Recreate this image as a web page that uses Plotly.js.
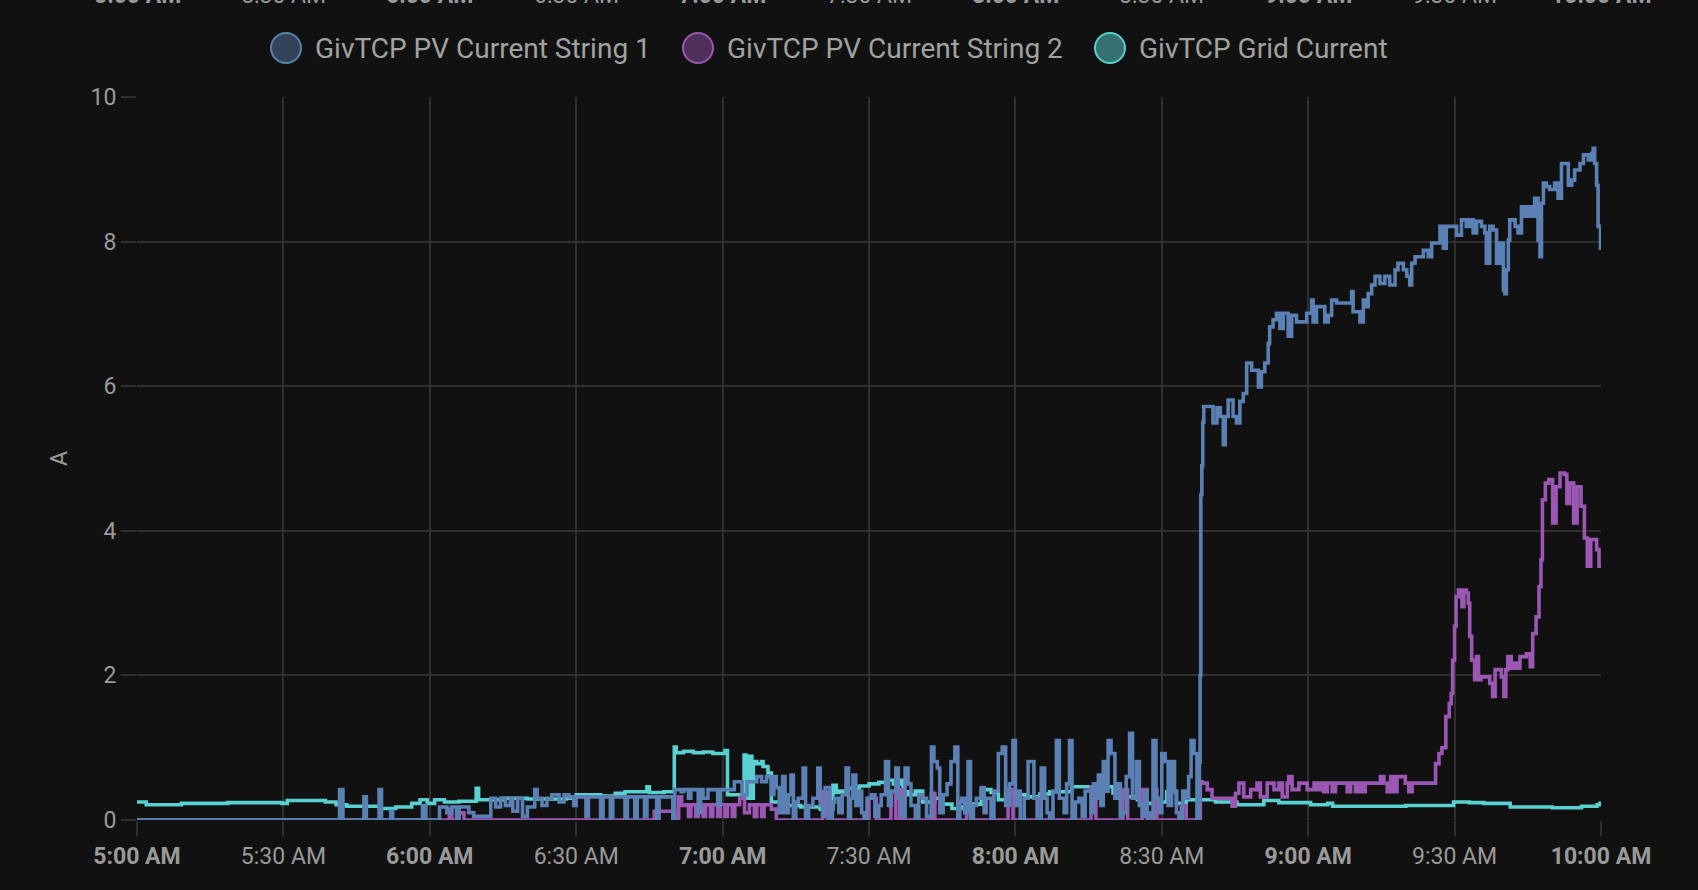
<!DOCTYPE html>
<html>
<head>
<meta charset="utf-8">
<script src="https://cdn.plot.ly/plotly-3.0.1.min.js"></script>
<style>
html,body{margin:0;padding:0;background:#111111;}
#chart{width:1698px;height:890px;}
</style>
</head>
<body>
<div id="chart"></div>
<script>
// ---- DATA (time = minutes after 05:00, value = amps) ----
const seriesNames = ["GivTCP PV Current String 1", "GivTCP PV Current String 2", "GivTCP Grid Current"];
const tickMinutes = [0, 30, 60, 90, 120, 150, 180, 210, 240, 270, 300];
const tickLabels = ["5:00 AM", "5:30 AM", "6:00 AM", "6:30 AM", "7:00 AM", "7:30 AM", "8:00 AM", "8:30 AM", "9:00 AM", "9:30 AM", "10:00 AM"];
const yTicks = [0, 2, 4, 6, 8, 10];

const string1Points = [
[0,0],[41.5,0.42],[42.2,0],[46.5,0.32],[47,0],[49.6,0.42],[50.1,0],[52,0.12],[52.4,0],[58.5,0.2],[59.2,0],
[62,0.18],[63.5,0.1],[64.5,0.18],[65.5,0],[66,0.18],[68,0.1],[69,0.05],[72.5,0.3],[73.5,0.18],[74.5,0.3],
[75.5,0.2],[76.5,0.3],[77,0.12],[78,0.3],[79,0.05],[80,0.18],[81.5,0.42],[82,0.3],[83,0.2],[84,0.3],[85,0.35],
[86.5,0.25],[87.5,0.35],[88.5,0.32],[89.5,0.2],[90,0.32],[92,0.05],[92.5,0.32],[95,0],[95.5,0.32],[97,0],
[97.5,0.32],[100,0],[100.5,0.32],[102,0],[102.5,0.32],[104,0.05],[104.5,0.32],[106.5,0],[107,0.32],
[109.8,0],[110.2,0.42],[111.5,0.39],[112,0.42],[113,0.3],[113.5,0.42],[115,0.1],[115.5,0.42],
[116,0.3],[117,0.42],[119,0.2],[119.5,0.42],[122.4,0.53],[124,0.35],[125,0.53],[127,0.6],[128,0.53],
[129,0.6],[130,0.35],[130.5,0.6],[131,0.45],[131.6,0.1],[132.3,0.6],[132.8,0.1],[133.5,0.35],[134,0.62],
[134.5,0],[135,0.25],[135.5,0.3],[136.5,0.72],[137,0],[137.6,0.2],[138.5,0.3],[139.5,0.72],[140,0.2],
[140.5,0.05],[141,0.45],[142,0],[142.5,0.25],[143,0.3],[143.8,0.1],[144.5,0.35],[145.3,0.72],[145.8,0],
[146.2,0.3],[146.7,0.62],[147.3,0.2],[148,0.4],[148.5,0.1],[149,0],[149.6,0.3],[150.5,0.35],[151.2,0.05],
[152,0.2],[152.5,0.35],[153.4,0.81],[154,0.2],[154.6,0.4],[155.5,0.72],[156,0.3],[156.6,0.05],
[157.4,0.72],[158,0.5],[158.6,0.2],[159.5,0],[160.2,0.35],[161,0.3],[161.8,0.05],[162.8,1.01],
[163.3,0.81],[164,0.72],[164.5,0.1],[165.2,0.35],[166,0.5],[166.8,0.81],[167.6,1.01],[168.2,0],
[168.6,0.25],[169,0.3],[169.6,0.1],[170.3,0.81],[170.8,0],[171.4,0.2],[172,0.3],[173,0.45],[173.6,0.1],
[174,0.3],[175,0],[175.6,0.4],[176.5,0.92],[177.3,1.01],[178,0.2],[178.8,0.5],[179.5,1.1],[180,0.2],
[180.5,0.4],[181,0],[181.8,0.3],[182.6,0.81],[183.8,0.3],[184.5,0],[185.3,0.72],[186,0.3],[186.5,0.1],
[187,0],[187.7,0.4],[188.4,1.1],[189,0.3],[190,0.1],[190.5,0.5],[191.1,1.1],[191.6,0],[192.3,0.25],
[193,0.3],[193.7,0.05],[194.3,0.4],[195,0.4],[195.5,0.1],[196,0.5],[196.5,0.3],[197,0.62],[197.5,0.2],
[198,0.81],[198.5,0.4],[199,1.1],[199.6,0.92],[200.4,0.3],[201,0.5],[201.5,0.05],[202,0.1],[202.7,0.6],
[203.4,1.2],[204,0.3],[204.8,0.81],[205.4,0.2],[206,0.05],[206.5,0.4],[207,0.1],[207.5,0],[208.2,1.1],
[208.8,0.3],[209.4,0.1],[210,0.92],[210.7,0.81],[211.3,0.2],[212,0.81],[212.6,0.4],[213,0.1],[213.5,0],
[214.3,0.4],[215,0.3],[215.5,0.6],[216,1.1],[216.6,0.92],[217.2,0],
[217.7,0.8],[217.85,2.0],[218,4.5],[218.2,4.9],[218.4,5.5],[218.6,5.72],
[220.5,5.49],[221.3,5.7],[222,5.58],[222.6,5.19],[223,5.58],[223.6,5.81],[224.6,5.58],[225.3,5.49],
[226,5.79],[226.7,5.9],[227.4,6.32],[228.4,6.22],[229.8,5.99],[230.4,6.2],[231.1,6.32],[231.8,6.59],
[232.1,6.82],[232.8,6.92],[233.5,7.01],[234.2,6.8],[234.9,7.01],[235.9,6.69],[236.6,6.98],[237.6,6.89],
[239.7,7.01],[240.7,7.19],[241,6.89],[241.7,7.1],[243.4,6.89],[244.1,6.98],[244.8,7.19],[245.8,7.15],
[248.9,7.31],[249.2,7.03],[250.6,6.89],[251.3,7.19],[252,7.1],[252.3,7.28],[253,7.4],[253.7,7.52],
[254.7,7.42],[255.7,7.52],[256.7,7.4],[257.8,7.61],[258.4,7.7],[259.5,7.61],[260.2,7.52],[260.8,7.4],
[261.2,7.7],[261.9,7.79],[263.6,7.88],[264.6,7.79],[265.3,7.98],[267,8.21],[267.7,7.91],[268.3,8.21],
[270.4,8.09],[271.4,8.3],[272.4,8.21],[273.1,8.3],[273.8,8.12],[274.5,8.28],[275.5,8.21],[276.2,8.12],
[276.5,7.7],[277.2,8.21],[277.9,8.16],[278.6,7.7],[279.3,7.98],[280,7.33],[280.3,7.28],[280.6,7.61],
[281,8.02],[281.3,8.3],[282.4,8.21],[283,8.12],[283.7,8.48],[284.4,8.35],[285.1,8.48],[285.8,8.35],
[286.4,8.6],[287.1,8.02],[287.5,7.79],[287.8,8.53],[288.2,8.81],[288.8,8.76],[289.5,8.72],[290.5,8.81],
[291.2,8.6],[291.9,9.08],[293.3,8.78],[294,8.85],[294.6,8.99],[295.7,9.08],[296.4,9.2],[297.4,9.13],
[298.1,9.22],[298.4,9.29],[298.7,9.08],[299.1,8.78],[299.4,8.21],[299.9,7.91],[300,7.91]
];

const string2Points = [
[0,0],[64,0.15],[64.5,0],[66,0.1],[67,0],[106,0.12],[110.2,0],[111,0.32],[111.6,0.2],[112.5,0.21],
[113,0.05],[113.5,0.21],[114.5,0.05],[115,0.21],[116,0.05],[116.5,0.21],[117.5,0.05],[118,0.21],
[119,0.05],[119.5,0.21],[120.5,0.05],[121,0.21],[122,0.05],[122.5,0.21],[123.5,0.3],[124.5,0.1],
[125.5,0.21],[126.5,0.05],[127,0.21],[128,0.05],[128.5,0.21],[130,0.15],[131,0],[140.5,0.39],[141.5,0],
[150,0.3],[151.5,0],[154.5,0.39],[155.5,0],[156.3,0.42],[157,0],[162.8,0.37],[163.5,0],[170,0.2],[171,0],
[178.5,0.42],[179.5,0],[184.5,0.3],[185.3,0],[195.5,0.46],[196.5,0],[202,0.42],[203,0],[206,0.42],[207,0],
[208.5,0.42],[209,0],[214,0.2],[215,0],[217.9,0.53],[218.3,0.51],[219.3,0.42],[220.3,0.3],[224.4,0.19],
[225.1,0.37],[225.8,0.51],[226.8,0.32],[228.2,0.42],[229.5,0.51],[230.2,0.32],[231.6,0.51],[233,0.42],
[234,0.51],[234.7,0.32],[235.7,0.51],[236,0.6],[236.7,0.42],[238.1,0.51],[239.8,0.42],[241.2,0.51],
[241.8,0.42],[242.5,0.51],[243.2,0.39],[243.9,0.51],[244.9,0.39],[245.6,0.51],[248,0.39],[248.7,0.51],
[249.7,0.39],[250.4,0.51],[251.1,0.39],[251.7,0.51],[254.8,0.6],[255.5,0.51],[256.2,0.39],[256.9,0.6],
[257.5,0.39],[258.2,0.6],[259.9,0.51],[260.6,0.39],[261.3,0.51],[266.1,0.78],[266.8,0.92],[267.4,1.0],
[268.2,1.43],[268.9,1.61],[269.3,1.75],[269.6,2.21],[270,2.68],[270.3,3.09],[270.8,3.18],[271.5,2.95],
[271.9,3.18],[272.4,3.14],[272.8,3.0],[273.1,2.54],[273.5,2.21],[274.1,1.94],[274.5,2.26],[274.9,1.94],
[275.4,1.98],[277.2,1.89],[277.8,1.71],[278.3,2.08],[279.6,1.98],[280.1,1.71],[280.5,2.08],[280.9,2.26],
[281.6,2.1],[282.3,2.17],[283,2.1],[283.4,2.26],[284.7,2.3],[285.5,2.12],[286,2.58],[286.7,2.81],
[287.3,3.23],[287.7,3.6],[288,4.43],[288.6,4.66],[289.3,4.71],[290.1,4.11],[290.8,4.61],[291.6,4.8],
[292.5,4.78],[293,4.38],[293.6,4.66],[294.4,4.11],[295.1,4.61],[295.9,4.34],[296.6,3.9],[297.2,3.51],
[297.9,3.88],[299.1,3.74],[299.6,3.51],[300,3.51]
];

const gridPoints = [
[0,0.25],[1.9,0.21],[9.1,0.23],[18.6,0.24],[29.7,0.23],[30.8,0.27],[38.6,0.25],[40.8,0.21],[43,0.19],
[49.7,0.16],[53,0.18],[56.3,0.23],[58,0.28],[59.5,0.23],[61,0.28],[63,0.25],[66,0.26],[69.5,0.44],
[70,0.28],[75,0.3],[80,0.29],[88,0.3],[90,0.35],[95,0.33],[98,0.37],[100,0.39],[104.5,0.46],[105,0.38],
[108,0.39],[110.1,1.01],[110.5,0.93],[112,0.95],[114,0.93],[116,0.94],[118,0.92],[120.5,0.96],[121,0.35],
[124.4,0.9],[124.8,0.3],[125.5,0.88],[126,0.3],[126.3,0.81],[127,0.78],[128,0.81],[128.3,0.74],
[129.3,0.65],[130,0.25],[132,0.2],[136,0.18],[140,0.15],[142.6,0.48],[143.3,0.38],[144,0.4],[145.5,0.44],
[148,0.47],[150,0.5],[152,0.52],[153.5,0.55],[155,0.5],[156.3,0.55],[157,0.39],[158,0.35],[159.5,0.4],
[161,0.25],[163.5,0.3],[165,0.22],[167,0.16],[169,0.18],[171,0.22],[173,0.42],[175,0.38],[176.5,0.28],
[178,0.39],[180,0.35],[182,0.32],[185,0.36],[187,0.39],[189,0.39],[191.5,0.46],[194,0.46],[196.5,0.39],
[198,0.46],[200,0.37],[202,0.32],[205,0.28],[207,0.23],[209,0.25],[211,0.39],[213,0.23],[215,0.28],
[218,0.28],[221,0.25],[225.4,0.21],[230.9,0.27],[234,0.24],[240.5,0.21],[244,0.23],[245,0.19],[255,0.19],
[260,0.2],[269.8,0.25],[273,0.24],[276,0.23],[281.4,0.18],[290,0.17],[296,0.19],[299.2,0.21],[299.8,0.23],[300,0.23]
];

// ---- helpers ----
const DAY = "2024-01-01";
function pad(n){ return (n < 10 ? "0" : "") + n; }
function toTime(m){
  const s = Math.round(m * 60);
  const h = 5 + Math.floor(s / 3600);
  const mm = Math.floor((s % 3600) / 60);
  const ss = s % 60;
  return DAY + " " + pad(h) + ":" + pad(mm) + ":" + pad(ss);
}

const colors = ["#5a80b4", "#9b57b3", "#58d1d0"];
const fills = ["rgba(90,128,180,0.45)", "rgba(155,87,179,0.45)", "rgba(88,209,208,0.5)"];
const seriesData = [string1Points, string2Points, gridPoints];

// draw order: grid bottom, string 2, string 1 top
const traces = [2, 1, 0].map(i => ({
  type: "scatter",
  mode: "lines",
  name: seriesNames[i],
  x: seriesData[i].map(p => toTime(p[0])),
  y: seriesData[i].map(p => p[1]),
  line: { color: colors[i], width: 3.6, shape: "hv" },
  showlegend: false,
  hoverinfo: "x+y+name"
}));

const W = 1698, H = 890;
const M = { l: 137, r: 97, t: 97, b: 70 };
const PW = W - M.l - M.r, PH = H - M.t - M.b;
const px2x = px => (px - M.l) / PW;
const py2y = py => (H - M.b - py) / PH;

const tickVals = tickMinutes.map(toTime);
const tickText = tickLabels.map((t, i) => (tickMinutes[i] % 60 === 0 ? "<b>" + t + "</b>" : t));

const shapes = [];
const annotations = [];
const legendCircleX = [286, 698, 1110];
const legendTextX = [313, 725, 1137];
const legendY = 48;
seriesNames.forEach((name, i) => {
  shapes.push({
    type: "circle", xref: "paper", yref: "paper",
    xsizemode: "pixel", ysizemode: "pixel",
    xanchor: px2x(legendCircleX[i]), yanchor: py2y(legendY),
    x0: -15, x1: 15, y0: -15, y1: 15,
    fillcolor: fills[i], line: { color: colors[i], width: 2 }
  });
  annotations.push({
    xref: "paper", yref: "paper", x: px2x(legendTextX[i]), y: py2y(legendY),
    xanchor: "left", yanchor: "middle", showarrow: false, text: name,
    font: { family: "Roboto", size: 28, color: "#a2a2a2" }
  });
});
// partially visible axis labels of the chart above (clipped at the top edge)
tickVals.forEach((tv, i) => {
  annotations.push({
    xref: "x", yref: "paper", x: tv, y: py2y(-5),
    xanchor: "center", yanchor: "middle", showarrow: false, text: tickText[i],
    font: { family: "Roboto", size: 23, color: "#9a9a9a" }
  });
});

const layout = {
  width: W, height: H,
  margin: M,
  paper_bgcolor: "#111111",
  plot_bgcolor: "#111111",
  font: { family: "Roboto", color: "#9a9a9a", size: 23 },
  showlegend: false,
  xaxis: {
    type: "date",
    range: [tickVals[0], tickVals[tickVals.length - 1]],
    tickmode: "array", tickvals: tickVals, ticktext: tickText,
    showgrid: true, gridcolor: "#303030", gridwidth: 1.5,
    ticks: "outside", ticklen: 15, tickcolor: "#303030", tickwidth: 1.5,
    showline: false, zeroline: false,
    tickfont: { family: "Roboto", size: 23, color: "#9a9a9a" }
  },
  yaxis: {
    range: [0, 10],
    tickmode: "array", tickvals: yTicks,
    showgrid: true, gridcolor: "#303030", gridwidth: 1.5,
    ticks: "outside", ticklen: 15, tickcolor: "#303030", tickwidth: 1.5,
    showline: false, zeroline: false,
    tickfont: { family: "Roboto", size: 23, color: "#9a9a9a" },
    title: { text: "A", font: { family: "Roboto", size: 23, color: "#9a9a9a" }, standoff: 16 }
  },
  shapes: shapes,
  annotations: annotations
};

Plotly.newPlot("chart", traces, layout, { displayModeBar: false });
</script>
</body>
</html>
